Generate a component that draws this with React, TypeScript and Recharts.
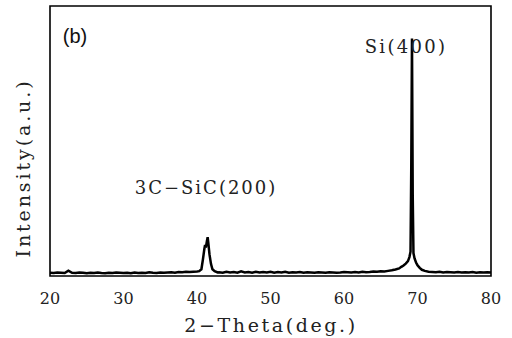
import { LineChart, Line, XAxis, YAxis, ReferenceArea } from 'recharts';

// 2-theta positions (deg.) and measured intensity (a.u., 0-100 scale)
const twoTheta = [
  20.0, 20.5, 21.0, 21.5, 22.0, 22.5, 23.0, 23.5, 24.0, 24.5,
  25.0, 25.5, 26.0, 26.5, 27.0, 27.5, 28.0, 28.5, 29.0, 29.5,
  30.0, 30.5, 31.0, 31.5, 32.0, 32.5, 33.0, 33.5, 34.0, 34.5,
  35.0, 35.5, 36.0, 36.5, 37.0, 37.5, 38.0, 38.5, 39.0, 39.5,
  40.0, 40.3, 40.6, 40.8, 41.0, 41.1, 41.2, 41.35, 41.45, 41.55,
  41.7, 41.9, 42.1, 42.4, 42.8, 43.0, 43.5, 44.0, 44.5, 45.0,
  45.5, 46.0, 46.5, 47.0, 47.5, 48.0, 48.5, 49.0, 49.5, 50.0,
  50.5, 51.0, 51.5, 52.0, 52.5, 53.0, 53.5, 54.0, 54.5, 55.0,
  55.5, 56.0, 56.5, 57.0, 57.5, 58.0, 58.5, 59.0, 59.5, 60.0,
  60.5, 61.0, 61.5, 62.0, 62.5, 63.0, 63.5, 64.0, 64.5, 65.0,
  65.5, 66.0, 66.5, 67.0, 67.5, 67.8, 68.1, 68.4, 68.7, 68.9,
  69.05, 69.15, 69.25, 69.35, 69.45, 69.6, 69.8, 70.0, 70.3, 70.6,
  71.0, 71.5, 72.0, 72.5, 73.0, 73.5, 74.0, 74.5, 75.0, 75.5,
  76.0, 76.5, 77.0, 77.5, 78.0, 78.5, 79.0, 79.5, 80.0,
];

const intensity = [
  1.2, 1.1, 1.3, 1.2, 1.1, 2.0, 1.2, 1.1, 1.3, 1.2,
  1.0, 1.2, 1.1, 1.3, 1.1, 1.0, 1.2, 1.1, 1.3, 1.2,
  1.1, 1.2, 1.0, 1.3, 1.1, 1.2, 1.1, 1.4, 1.2, 1.1,
  1.3, 1.2, 1.3, 1.4, 1.2, 1.5, 1.4, 1.6, 1.5, 1.6,
  1.7, 1.8, 2.5, 6.0, 10.0, 11.5, 10.5, 13.0, 14.4, 12.0,
  8.0, 4.5, 2.5, 1.8, 1.3, 1.4, 1.2, 1.6, 1.3, 1.5,
  1.2, 1.7, 1.3, 1.5, 1.2, 1.6, 1.3, 1.5, 1.3, 1.6,
  1.2, 1.5, 1.3, 1.6, 1.2, 1.4, 1.3, 1.5, 1.2, 1.4,
  1.3, 1.2, 1.4, 1.3, 1.2, 1.4, 1.3, 1.2, 1.3, 1.5,
  1.4, 1.3, 1.5, 1.3, 1.6, 1.4, 1.5, 1.7, 1.6, 1.8,
  1.7, 1.9, 2.1, 2.4, 2.8, 3.4, 3.9, 4.6, 5.5, 7.0,
  9.0, 40.0, 88.0, 30.0, 8.5, 6.5, 5.0, 4.0, 3.0, 2.3,
  1.9, 1.6, 1.5, 1.4, 1.6, 1.3, 1.5, 1.4, 1.3, 1.5,
  1.3, 1.4, 1.3, 1.5, 1.2, 1.4, 1.3, 1.4, 1.3,
];

const xTicks = [20, 30, 40, 50, 60, 70, 80];

const data = twoTheta.map((t, i) => ({ theta: t, value: intensity[i] }));

const serif = 'DejaVu Serif, serif';

export default function App() {
  return (
    <div style={{ position: 'relative', width: 512, height: 338, background: '#fff' }}>
      <style>{'body{margin:0}'}</style>
      <LineChart width={512} height={338} data={data} margin={{ top: 6, right: 21, bottom: 0, left: 0 }}>
        <XAxis
          dataKey="theta"
          type="number"
          domain={[20, 80]}
          ticks={xTicks}
          axisLine={false}
          tickLine={false}
          tickMargin={11}
          height={62}
          tick={{ fill: '#222', fontSize: 16, fontFamily: serif }}
        />
        <YAxis domain={[0, 100]} width={50} tick={false} axisLine={false} tickLine={false} />
        <Line
          dataKey="value"
          type="linear"
          stroke="#000"
          strokeWidth={2.5}
          dot={false}
          isAnimationActive={false}
        />
        <ReferenceArea x1={20} x2={80} y1={0} y2={100} fill="none" stroke="#000" strokeWidth={1.6} />
      </LineChart>
      <div style={{ position: 'absolute', left: 75, top: 36, transform: 'translate(-50%,-50%)', fontFamily: 'Liberation Sans, sans-serif', fontSize: 20, color: '#111', lineHeight: 1 }}>
        (b)
      </div>
      <div style={{ position: 'absolute', left: 206, top: 188, transform: 'translate(-50%,-50%)', fontFamily: serif, fontSize: 18, letterSpacing: 2, color: '#222', whiteSpace: 'nowrap', lineHeight: 1 }}>
        3C−SiC(200)
      </div>
      <div style={{ position: 'absolute', left: 406, top: 47, transform: 'translate(-50%,-50%)', fontFamily: serif, fontSize: 18, letterSpacing: 2.3, color: '#222', whiteSpace: 'nowrap', lineHeight: 1 }}>
        Si(400)
      </div>
      <div style={{ position: 'absolute', left: 271, top: 325, transform: 'translate(-50%,-50%)', fontFamily: serif, fontSize: 19, letterSpacing: 2.6, color: '#222', whiteSpace: 'nowrap', lineHeight: 1 }}>
        2−Theta(deg.)
      </div>
      <div style={{ position: 'absolute', left: 23, top: 168, transform: 'translate(-50%,-50%) rotate(-90deg)', fontFamily: serif, fontSize: 19, letterSpacing: 2.9, color: '#222', whiteSpace: 'nowrap', lineHeight: 1 }}>
        Intensity(a.u.)
      </div>
    </div>
  );
}
